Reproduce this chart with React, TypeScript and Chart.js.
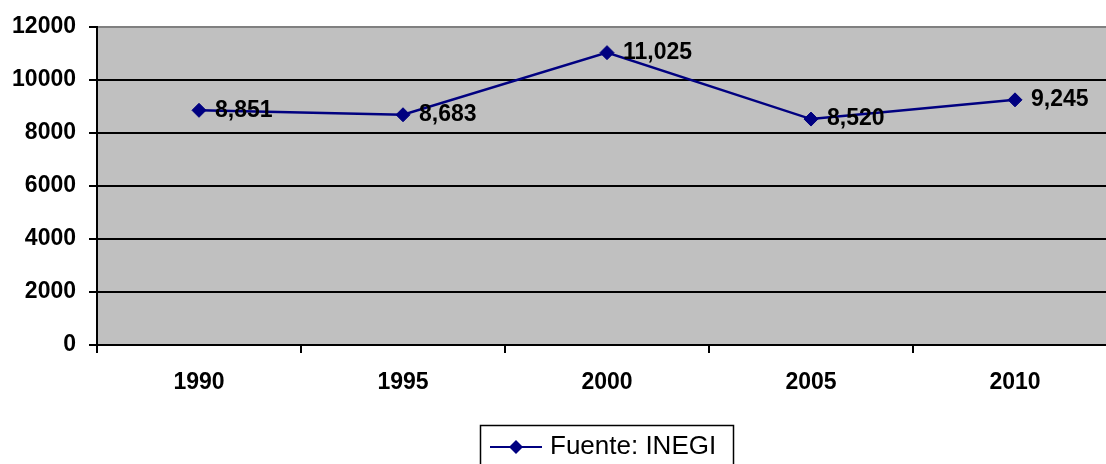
import React, { useEffect, useRef } from "react";
import { Chart, registerables } from "chart.js";

Chart.register(...registerables);

const categories = ["1990", "1995", "2000", "2005", "2010"];
const values = [8851, 8683, 11025, 8520, 9245];
const seriesName = "Fuente: INEGI";
const yMin = 0;
const yMax = 12000;
const yStep = 2000;

const FONT = '"Liberation Sans", Arial, sans-serif';
const NAVY = "#000080";

const CANVAS_W = 1130;
const CANVAS_H = 464;

const bgPlugin = {
  id: "plotBg",
  beforeDraw(chart: any) {
    const { ctx, chartArea } = chart;
    ctx.save();
    ctx.fillStyle = "#C0C0C0";
    ctx.fillRect(chartArea.left, chartArea.top, chartArea.right - chartArea.left, chartArea.bottom - chartArea.top);
    ctx.restore();
  },
};

const labelPlugin = {
  id: "dataLabels",
  afterDatasetsDraw(chart: any) {
    const { ctx } = chart;
    const meta = chart.getDatasetMeta(0);
    ctx.save();
    ctx.font = `bold 23px ${FONT}`;
    ctx.fillStyle = "#000";
    ctx.textAlign = "left";
    ctx.textBaseline = "middle";
    meta.data.forEach((pt: any, i: number) => {
      const v = chart.data.datasets[0].data[i] as number;
      ctx.fillText(v.toLocaleString("en-US"), pt.x + 16, pt.y);
    });
    ctx.restore();
  },
};

const legendPlugin = {
  id: "customLegend",
  afterDraw(chart: any) {
    const { ctx } = chart;
    ctx.save();
    ctx.strokeStyle = "#000";
    ctx.lineWidth = 1.5;
    ctx.strokeRect(480.5, 425.5, 253, 50);
    ctx.strokeStyle = NAVY;
    ctx.lineWidth = 2;
    ctx.beginPath();
    ctx.moveTo(490, 447);
    ctx.lineTo(542, 447);
    ctx.stroke();
    ctx.fillStyle = NAVY;
    ctx.beginPath();
    ctx.moveTo(516, 440);
    ctx.lineTo(523, 447);
    ctx.lineTo(516, 454);
    ctx.lineTo(509, 447);
    ctx.closePath();
    ctx.fill();
    ctx.fillStyle = "#000";
    ctx.font = `26px ${FONT}`;
    ctx.textAlign = "left";
    ctx.textBaseline = "middle";
    ctx.fillText(chart.data.datasets[0].label, 550, 447);
    ctx.restore();
  },
};

export default function App() {
  const ref = useRef<HTMLCanvasElement | null>(null);

  useEffect(() => {
    if (!ref.current) return;
    const chart = new Chart(ref.current, {
      type: "line",
      data: {
        labels: categories,
        datasets: [
          {
            label: seriesName,
            data: values,
            borderColor: NAVY,
            backgroundColor: NAVY,
            borderWidth: 2.5,
            pointStyle: "rectRot",
            pointRadius: 7,
            pointBackgroundColor: NAVY,
            pointBorderColor: NAVY,
            pointBorderWidth: 1,
            tension: 0,
            clip: false as any,
          },
        ],
      },
      options: {
        responsive: false,
        maintainAspectRatio: false,
        animation: false,
        layout: { padding: { top: 24, left: 0, right: CANVAS_W - 1117, bottom: 0 } },
        plugins: {
          legend: { display: false },
          title: { display: false },
          tooltip: { enabled: false },
        },
        scales: {
          x: {
            type: "category",
            offset: true,
            afterFit(scale: any) {
              scale.height = 119;
            },
            grid: {
              display: true,
              offset: true,
              drawOnChartArea: false,
              drawTicks: true,
              tickLength: 8,
              tickColor: "#000",
              tickWidth: 2,
              color: "#000",
              lineWidth: 2,
            },
            border: { display: true, color: "#000", width: 2 },
            ticks: {
              color: "#000",
              font: { family: FONT, size: 23, weight: "bold" },
              padding: 16,
              maxRotation: 0,
            },
          },
          y: {
            min: yMin,
            max: yMax,
            afterFit(scale: any) {
              scale.width = 97;
            },
            grid: {
              color: (c: any) => (c.tick && c.tick.value === yMax ? "#808080" : "#000"),
              lineWidth: 2,
              tickLength: 8,
              tickColor: "#000",
              tickWidth: 2,
            },
            border: { display: true, color: "#000", width: 2 },
            ticks: {
              stepSize: yStep,
              color: "#000",
              font: { family: FONT, size: 23, weight: "bold" },
              padding: 13,
              callback: (v: any) => String(v),
            },
          },
        },
      },
      plugins: [bgPlugin, labelPlugin, legendPlugin],
    });
    return () => chart.destroy();
  }, []);

  return (
    <div
      style={{
        position: "fixed",
        left: 0,
        top: 0,
        width: 1106,
        height: 464,
        overflow: "hidden",
        background: "#fff",
      }}
    >
      <canvas
        ref={ref}
        width={CANVAS_W}
        height={CANVAS_H}
        style={{ width: CANVAS_W, height: CANVAS_H, display: "block" }}
      />
    </div>
  );
}
